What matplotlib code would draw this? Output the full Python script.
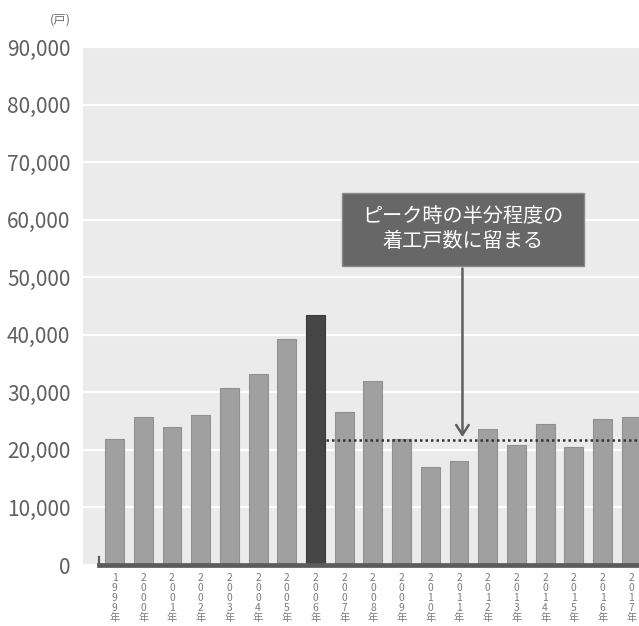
import matplotlib.pyplot as plt
from matplotlib.patches import Rectangle
from matplotlib.ticker import FuncFormatter
import numpy as np

plt.rcParams['font.family'] = ['Noto Sans CJK JP', 'DejaVu Sans']

# 着工戸数（戸）
years = ['1999', '2000', '2001', '2002', '2003', '2004', '2005', '2006', '2007', '2008',
         '2009', '2010', '2011', '2012', '2013', '2014', '2015', '2016', '2017']
units = [21900, 25700, 23900, 26000, 30800, 33100, 39200, 43500, 26500, 31900,
         21900, 17000, 18000, 23650, 20800, 24500, 20500, 25300, 25700]
peak_year = '2006'
yticks = [0, 10000, 20000, 30000, 40000, 50000, 60000, 70000, 80000, 90000]
note = 'ピーク時の半分程度の\n着工戸数に留まる'

W, H = 639, 626
fig = plt.figure(figsize=(W / 100, H / 100), dpi=100)
ax = fig.add_axes([83 / W, (H - 565) / H, (W - 83) / W, (565 - 47) / H])
ax.set_facecolor('#ebebeb')

x = np.arange(len(years))
colors = ['#454545' if y == peak_year else '#a0a0a0' for y in years]
edges = ['#3a3a3a' if y == peak_year else '#909090' for y in years]
ax.bar(x, units, width=0.66, color=colors, edgecolor=edges, linewidth=0.8, zorder=3)

ax.set_ylim(0, 90000)
ax.set_xlim(-1.10, 18.27)
ax.set_yticks(yticks)
ax.yaxis.set_major_formatter(FuncFormatter(lambda v, p: f'{int(v):,}'))
ax.grid(axis='y', color='white', linewidth=1.6, zorder=1)
ax.set_axisbelow(True)
for s in ax.spines.values():
    s.set_visible(False)

ax.tick_params(axis='y', length=0, pad=9, labelsize=15, labelcolor='#606060')
ax.set_xticks(x)
ax.set_xticklabels(['\n'.join(list(y) + ['年']) for y in years],
                   fontsize=7.4, color='#7a7a7a', linespacing=1.0, va='top')
ax.tick_params(axis='x', length=0, pad=6)

# 軸の太線
ax.axhline(0, xmin=(99 - 83) / (W - 83), color='#5c5c5c', linewidth=3.4,
           clip_on=False, zorder=4)
ax.plot([(99 - 83) / (W - 83)] * 2, [0, 0.016], transform=ax.transAxes,
        color='#5c5c5c', linewidth=1.6, clip_on=False, zorder=4)

# ピークの半分の点線
i_peak = years.index(peak_year)
half = max(units) / 2
ax.plot([i_peak + 0.35, 18.6], [half, half], linestyle=(0, (1, 1.2)),
        color='#333333', linewidth=1.8, zorder=5)

# 注記ボックスと矢印
ax.add_patch(Rectangle((7.94, 52000), 8.41, 12600, facecolor='#676767',
                       edgecolor='#8a8a8a', linewidth=1, zorder=6))
ax.text(12.15, 58300, note, ha='center', va='center', color='white',
        fontsize=14.5, linespacing=1.25, zorder=7)
ax.annotate('', xy=(12.12, half), xytext=(12.12, 52000),
            arrowprops=dict(arrowstyle='->,head_length=0.7,head_width=0.45',
                            color='#5f5f5f', linewidth=1.8), zorder=6)

fig.text(71 / W, 1 - 20 / H, '(戸)', ha='right', va='center', fontsize=9, color='#707070')

fig.savefig('out.png', dpi=100)
